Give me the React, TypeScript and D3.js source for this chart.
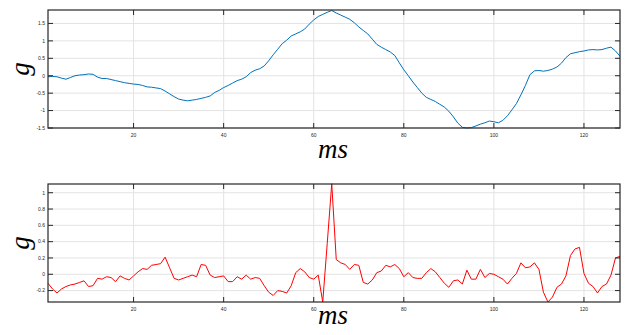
import React, { useEffect, useRef } from 'react';
import * as d3 from 'd3';

// sample index, 1..128 (ms)
const ms: number[] = d3.range(1, 129);

const gTop: number[] = [
  -0.03, -0.02, -0.03, -0.07, -0.10, -0.05, 0.00, 0.02, 0.03, 0.05,
  0.04, -0.04, -0.08, -0.08, -0.11, -0.14, -0.17, -0.20, -0.22, -0.24,
  -0.25, -0.28, -0.32, -0.33, -0.35, -0.37, -0.44, -0.52, -0.60, -0.67,
  -0.70, -0.72, -0.70, -0.68, -0.65, -0.62, -0.58, -0.48, -0.42, -0.34,
  -0.28, -0.21, -0.14, -0.10, -0.03, 0.09, 0.16, 0.20, 0.28, 0.43,
  0.60, 0.76, 0.92, 1.02, 1.14, 1.20, 1.26, 1.34, 1.48, 1.60,
  1.70, 1.76, 1.82, 1.87, 1.80, 1.74, 1.68, 1.62, 1.52, 1.40,
  1.30, 1.20, 1.05, 0.90, 0.82, 0.75, 0.68, 0.58, 0.37, 0.17,
  0.00, -0.18, -0.34, -0.50, -0.62, -0.68, -0.74, -0.82, -0.90, -1.02,
  -1.18, -1.36, -1.48, -1.50, -1.49, -1.44, -1.39, -1.35, -1.30, -1.32,
  -1.35, -1.28, -1.15, -0.98, -0.80, -0.55, -0.28, 0.03, 0.14, 0.15,
  0.13, 0.15, 0.19, 0.25, 0.36, 0.52, 0.63, 0.66, 0.69, 0.71,
  0.74, 0.75, 0.74, 0.75, 0.79, 0.82, 0.71, 0.56,
];

const gBottom: number[] = [
  -0.11, -0.18, -0.23, -0.18, -0.15, -0.13, -0.12, -0.10, -0.08, -0.15,
  -0.14, -0.05, -0.06, -0.03, -0.04, -0.09, -0.02, -0.05, -0.07, -0.02,
  0.03, 0.07, 0.06, 0.11, 0.12, 0.13, 0.21, 0.08, -0.05, -0.07,
  -0.05, -0.03, -0.01, -0.03, 0.12, 0.11, -0.01, -0.04, -0.03, -0.02,
  -0.09, -0.09, -0.03, -0.06, -0.01, -0.06, -0.04, -0.05, -0.14, -0.22,
  -0.26, -0.20, -0.21, -0.23, -0.14, 0.02, 0.07, 0.03, -0.04, -0.06,
  -0.01, -0.34, 0.38, 1.11, 0.18, 0.14, 0.12, 0.06, 0.12, 0.11,
  -0.10, -0.12, -0.07, 0.02, 0.04, 0.11, 0.09, 0.12, 0.07, -0.03,
  0.02, -0.04, -0.05, -0.05, 0.02, 0.07, 0.03, -0.04, -0.11, -0.16,
  -0.08, -0.07, -0.12, 0.05, -0.06, -0.06, 0.06, -0.04, 0.01, 0.00,
  -0.03, -0.06, -0.12, -0.05, 0.01, 0.14, 0.08, 0.09, 0.14, 0.06,
  -0.22, -0.34, -0.28, -0.16, -0.12, -0.02, 0.23, 0.31, 0.33, 0.01,
  -0.11, -0.15, -0.23, -0.15, -0.12, -0.01, 0.20, 0.22,
];

const xTicks: number[] = [20, 40, 60, 80, 100, 120];
const yTicksTop: number[] = [-1.5, -1, -0.5, 0, 0.5, 1, 1.5];
const yTicksBottom: number[] = [-0.2, 0, 0.2, 0.4, 0.6, 0.8, 1];

const xLimits: [number, number] = [1, 128];
const yLimitsTop: [number, number] = [-1.5, 1.886];
const yLimitsBottom: [number, number] = [-0.34, 1.107];

interface PanelSpec {
  values: number[];
  yDomain: [number, number];
  yTicks: number[];
  color: string;
  top: number;
  xLabelGap: number;
}

const W = 630;
const H = 335;
const LEFT = 48;
const RIGHT = 620;
const PH = 118;

function drawPanel(svg: d3.Selection<SVGSVGElement, unknown, null, undefined>, spec: PanelSpec) {
  const x = d3.scaleLinear().domain(xLimits).range([LEFT, RIGHT]);
  const y = d3.scaleLinear().domain(spec.yDomain).range([spec.top + PH, spec.top]);
  const g = svg.append('g');
  const tickLen = 5;

  // grid
  g.selectAll('.gx').data(xTicks).enter().append('line')
    .attr('x1', d => x(d)).attr('x2', d => x(d))
    .attr('y1', spec.top).attr('y2', spec.top + PH)
    .attr('stroke', '#e3e3e3').attr('stroke-width', 1);
  g.selectAll('.gy').data(spec.yTicks).enter().append('line')
    .attr('x1', LEFT).attr('x2', RIGHT)
    .attr('y1', d => y(d)).attr('y2', d => y(d))
    .attr('stroke', '#e3e3e3').attr('stroke-width', 1);

  // data line
  const line = d3.line<number>()
    .x((_, i) => x(ms[i]))
    .y(d => y(d));
  g.append('path')
    .datum(spec.values)
    .attr('d', line)
    .attr('fill', 'none')
    .attr('stroke', spec.color)
    .attr('stroke-width', 1)
    .attr('stroke-linejoin', 'round');

  // ticks, inside, on all four sides
  xTicks.forEach(t => {
    g.append('line').attr('x1', x(t)).attr('x2', x(t))
      .attr('y1', spec.top + PH).attr('y2', spec.top + PH - tickLen)
      .attr('stroke', '#262626').attr('stroke-width', 1);
    g.append('line').attr('x1', x(t)).attr('x2', x(t))
      .attr('y1', spec.top).attr('y2', spec.top + tickLen)
      .attr('stroke', '#262626').attr('stroke-width', 1);
  });
  spec.yTicks.forEach(t => {
    g.append('line').attr('x1', LEFT).attr('x2', LEFT + tickLen)
      .attr('y1', y(t)).attr('y2', y(t))
      .attr('stroke', '#262626').attr('stroke-width', 1);
    g.append('line').attr('x1', RIGHT).attr('x2', RIGHT - tickLen)
      .attr('y1', y(t)).attr('y2', y(t))
      .attr('stroke', '#262626').attr('stroke-width', 1);
  });

  // box
  g.append('rect')
    .attr('x', LEFT).attr('y', spec.top)
    .attr('width', RIGHT - LEFT).attr('height', PH)
    .attr('fill', 'none').attr('stroke', '#262626').attr('stroke-width', 1.2);

  // tick labels
  g.selectAll('.xl').data(xTicks).enter().append('text')
    .attr('x', d => x(d)).attr('y', spec.top + PH + 9)
    .attr('text-anchor', 'middle')
    .style('font-family', '"Liberation Sans", Arial, sans-serif')
    .style('font-size', '5px')
    .style('fill', '#262626')
    .text(d => String(d));
  g.selectAll('.yl').data(spec.yTicks).enter().append('text')
    .attr('x', LEFT - 3).attr('y', d => y(d) + 1.8)
    .attr('text-anchor', 'end')
    .style('font-family', '"Liberation Sans", Arial, sans-serif')
    .style('font-size', '5px')
    .style('fill', '#262626')
    .text(d => String(d));

  // axis labels
  g.append('text')
    .attr('x', 333).attr('y', spec.top + PH + spec.xLabelGap)
    .attr('text-anchor', 'middle')
    .style('font-family', '"Liberation Serif", "DejaVu Serif", serif')
    .style('font-style', 'italic')
    .style('font-size', '27px')
    .style('fill', '#000')
    .text('ms');
  g.append('text')
    .attr('transform', `translate(29, ${spec.top + PH / 2}) rotate(-90)`)
    .attr('text-anchor', 'middle')
    .style('font-family', '"Liberation Serif", "DejaVu Serif", serif')
    .style('font-style', 'italic')
    .style('font-size', '27px')
    .style('fill', '#000')
    .text('g');
}

const Chart: React.FC = () => {
  const svgRef = useRef<SVGSVGElement>(null);

  useEffect(() => {
    if (!svgRef.current) return;
    document.body.style.margin = '0';
    const svg = d3.select(svgRef.current);
    svg.selectAll('*').remove();
    svg.append('rect').attr('width', W).attr('height', H).attr('fill', '#fff');

    drawPanel(svg, { values: gTop, yDomain: yLimitsTop, yTicks: yTicksTop, color: '#0072BD', top: 10, xLabelGap: 30 });
    drawPanel(svg, { values: gBottom, yDomain: yLimitsBottom, yTicks: yTicksBottom, color: '#FF0000', top: 184, xLabelGap: 22 });
  }, []);

  return <svg ref={svgRef} width={W} height={H} style={{ display: 'block' }}></svg>;
};

export default function App() {
  return <Chart />;
}
